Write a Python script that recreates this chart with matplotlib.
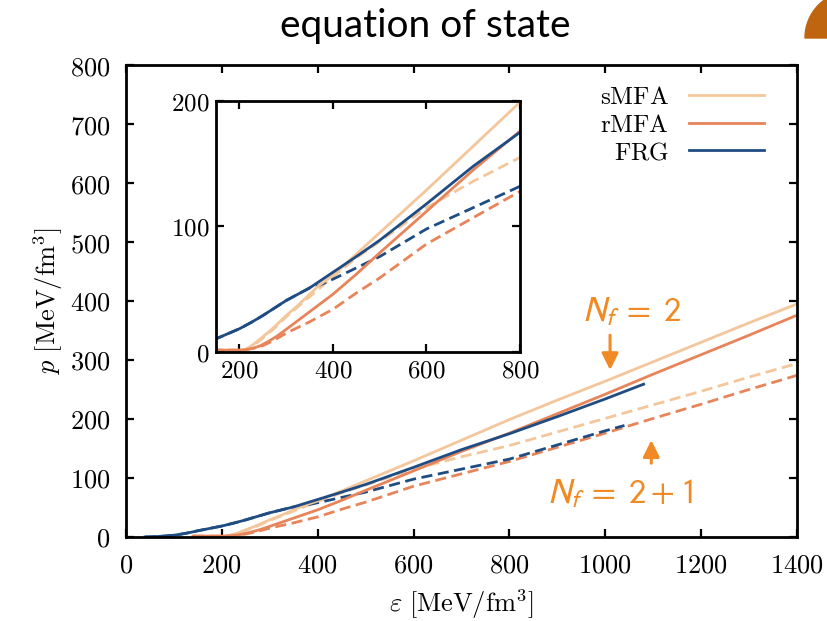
import matplotlib
matplotlib.use("Agg")
import matplotlib.pyplot as plt
import matplotlib.ticker as mticker
from matplotlib.patches import Wedge
from matplotlib.transforms import IdentityTransform

plt.rcParams['mathtext.fontset'] = 'cm'

# ---- data (epsilon [MeV/fm^3], p [MeV/fm^3]) ----
smfa_e = [205, 230, 250, 275, 300, 325, 350, 370, 400, 450, 500, 600, 700, 800, 900, 1000, 1100, 1200, 1300, 1400]
smfa_p = [0, 6, 12, 20, 29, 37, 46, 53, 61, 78, 95, 129, 164, 199, 232, 264, 297, 330, 363, 395]

rmfa_e = [140, 200, 215, 230, 245, 260, 280, 300, 325, 350, 400, 450, 500, 600, 700, 800, 900, 1000, 1100, 1200, 1300, 1400]
rmfa_p = [1.5, 1.5, 2, 3, 5, 8, 12.5, 18, 25, 32, 46, 62, 79, 112, 145, 176, 209, 242, 276, 309, 342, 376]

frg_e = [40, 60, 80, 100, 113, 130, 150, 175, 200, 225, 250, 275, 300, 325, 350, 400, 450, 500, 600, 700, 800, 900, 1000, 1080]
frg_p = [0, 0.5, 1.5, 3, 4.5, 7, 10.5, 14.5, 18.5, 23.5, 29, 35, 41, 46, 51, 63.5, 76, 89, 118, 148, 175, 204, 234, 259]

smfa21_e = [205, 230, 250, 275, 300, 325, 350, 400, 450, 500, 600, 700, 800, 900, 1000, 1100, 1200, 1300, 1400]
smfa21_p = [0, 5, 11, 19, 28, 36, 44, 60, 75, 88, 115, 136, 155, 178, 201, 224, 247, 271, 294]

rmfa21_e = [140, 200, 215, 230, 250, 275, 300, 350, 400, 450, 500, 600, 700, 800, 900, 1000, 1100, 1200, 1300, 1400]
rmfa21_p = [1.5, 1.5, 2, 3, 5, 9.5, 15, 24, 34, 47, 59, 86, 107, 128, 152, 176, 201, 225, 250, 274]

frg21_e = [40, 60, 80, 100, 113, 130, 150, 175, 200, 225, 250, 275, 300, 325, 350, 370, 400, 450, 500, 600, 700, 800, 900, 1000, 1040]
frg21_p = [0, 0.5, 1.5, 3, 4.5, 7, 10.5, 14.5, 18.5, 23.5, 29, 35, 41, 46, 51, 53, 58, 67, 76, 98, 115, 132, 156, 180, 189]

main_xticks = [0, 200, 400, 600, 800, 1000, 1200, 1400]
main_yticks = [0, 100, 200, 300, 400, 500, 600, 700, 800]
inset_xticks = [200, 400, 600, 800]
inset_yticks = [0, 100, 200]

labels = ['sMFA', 'rMFA', 'FRG']

c_s = '#F3C69B'
c_r = '#E8845A'
c_f = '#1F4C82'
c_ann = '#F08A24'

fig = plt.figure(figsize=(8.28, 6.21), dpi=100)
ax = fig.add_axes([0.152, 0.1353, 0.8106, 0.76])

fmt = mticker.FuncFormatter(lambda v, p: f'${v:.0f}$')

def draw(a):
    lw = 2.0
    ds = (4, 2)
    a.plot(smfa21_e, smfa21_p, color=c_s, lw=lw, dashes=ds)
    a.plot(rmfa21_e, rmfa21_p, color=c_r, lw=lw, dashes=ds)
    a.plot(frg21_e, frg21_p, color=c_f, lw=lw, dashes=ds)
    l1, = a.plot(smfa_e, smfa_p, color=c_s, lw=lw, label=r'$\mathrm{%s}$' % labels[0])
    l2, = a.plot(rmfa_e, rmfa_p, color=c_r, lw=lw, label=r'$\mathrm{%s}$' % labels[1])
    l3, = a.plot(frg_e, frg_p, color=c_f, lw=lw, label=r'$\mathrm{%s}$' % labels[2])
    return [l1, l2, l3]

def style(a, size, pad):
    for s in a.spines.values():
        s.set_linewidth(2.0)
    a.tick_params(direction='in', length=6, width=1.6, top=True, right=True,
                  labelsize=size, pad=pad)
    a.xaxis.set_major_formatter(fmt)
    a.yaxis.set_major_formatter(fmt)

handles = draw(ax)
ax.set_xlim(0, 1400)
ax.set_ylim(0, 800)
ax.set_xticks(main_xticks)
ax.set_yticks(main_yticks)
style(ax, 19, 11)
ax.set_xlabel(r'$\varepsilon\ [\mathrm{MeV/fm^3}]$', fontsize=19, labelpad=6)
ax.set_ylabel(r'$p\ [\mathrm{MeV/fm^3}]$', fontsize=19, labelpad=4)

leg = ax.legend(handles=handles, loc='upper right', bbox_to_anchor=(0.98, 1.0),
                frameon=False, markerfirst=False,
                fontsize=18, handlelength=3.0, handletextpad=0.8, labelspacing=0.14,
                borderaxespad=0.4)

# annotations
ax.text(1056, 382, r'$N_f\;=\;2$', color=c_ann, fontsize=25, ha='center', va='center',
        math_fontfamily='stixsans')
ax.text(1031, 74, r'$N_f\;=\;2+1$', color=c_ann, fontsize=25, ha='center', va='center',
        math_fontfamily='stixsans')
ax.annotate('', xy=(1010, 283), xytext=(1010, 342),
            arrowprops=dict(arrowstyle='-|>,head_width=0.5,head_length=1.0',
                            color=c_ann, lw=2.2, shrinkA=0, shrinkB=0))
ax.annotate('', xy=(1096, 164), xytext=(1096, 125),
            arrowprops=dict(arrowstyle='-|>,head_width=0.5,head_length=1.0',
                            color=c_ann, lw=2.2, shrinkA=0, shrinkB=0))

# inset
ins = fig.add_axes([0.2609, 0.4332, 0.3671, 0.4042])
draw(ins)
ins.set_xlim(150, 800)
ins.set_ylim(0, 200)
ins.set_xticks(inset_xticks)
ins.set_yticks(inset_yticks)
style(ins, 18, 5)

# title
fig.text(0.513, 0.958, 'equation of state', fontsize=28, family='Lato',
         ha='center', va='center')

# decorative corner shape
fig.patches.append(Wedge((852, 583), 47, 90, 180, color='#C0650F',
                         transform=IdentityTransform(), figure=fig))

fig.savefig('out.png', dpi=100)
